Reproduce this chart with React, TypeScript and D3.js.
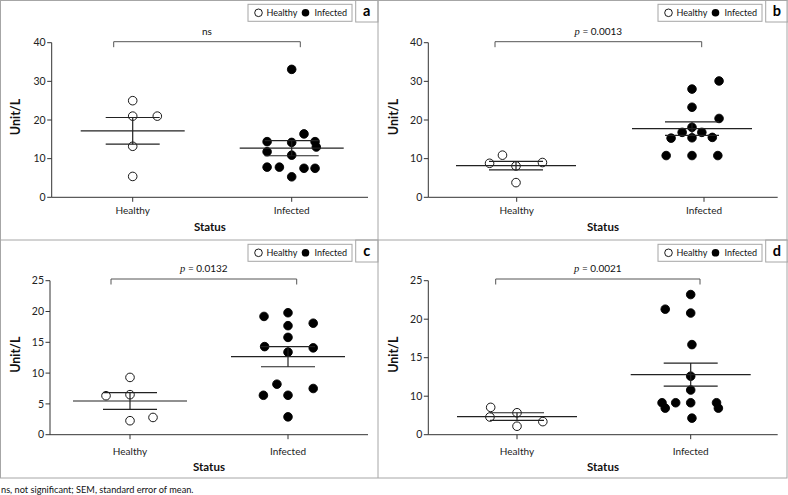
import React from "react";
import * as d3 from "d3";

// ---------- data ----------
const categories = ["Healthy", "Infected"];
const panelLetters = ["a", "b", "c", "d"];
const pLabels = ["ns", "0.0013", "0.0132", "0.0021"];
const footnote = "ns, not significant; SEM, standard error of mean.";
const yAxisTitle = "Unit/L";
const xAxisTitle = "Status";

const yTicksA = [0, 10, 20, 30, 40];
const yTicksB = [0, 10, 20, 30, 40];
const yTicksC = [0, 5, 10, 15, 20, 25];
const yTicksD = [0, 10, 15, 20, 25];

const aHealthy = [25, 21, 21, 13.2, 5.4];
const aHealthySlot = [0, 0, 2, 0, 0];
const aInfected = [33.1, 16.4, 14.4, 14.2, 14.4, 13.0, 11.8, 10.9, 7.8, 7.8, 7.5, 7.5, 5.3];
const aInfectedSlot = [0, 1, -2, 0, 1.9, 2, -2, 0, -2, -1, 1, 1.9, 0];
const aMean = [17.2, 12.7];
const aSem = [3.45, 1.95];

const bHealthy = [8.8, 10.9, 8.1, 9.0, 3.8];
const bHealthySlot = [-2.15, -1.1, 0, 2.15, 0];
const bInfected = [30.1, 28.0, 23.3, 20.4, 18.1, 16.8, 16.8, 15.3, 15.4, 15.5, 10.8, 10.8, 10.8];
const bInfectedSlot = [2.2, 0, 0, 2.2, 0, -0.8, 0.8, -1.7, 0, 1.65, -2.1, 0, 2.1];
const bMean = [8.2, 17.75];
const bSem = [1.1, 1.75];

const cHealthy = [6.33, 9.3, 6.5, 2.27, 2.8];
const cHealthySlot = [-1.95, 0, 0, 0, 1.87];
const cInfected = [19.2, 19.8, 17.7, 18.1, 15.8, 14.3, 14.1, 13.4, 8.2, 6.4, 6.4, 7.5, 2.9];
const cInfectedSlot = [-1.95, 0, 0, 2.05, 0, -1.9, 2.05, 0, -0.9, -2, 0, 2.05, 0];
const cMean = [5.47, 12.66];
const cSem = [1.35, 1.63];

const dHealthy = [7.1, 4.6, 5.7, 2.2, 3.4];
const dHealthySlot = [-2.14, -2.2, 0, 0, 2.1];
const dInfected = [23.2, 21.3, 20.8, 16.7, 12.6, 10.8, 8.3, 8.3, 8.3, 8.3, 6.9, 6.9, 4.3];
const dInfectedSlot = [0, -2.07, 0, 0.1, 0, 0, -2.33, -1.22, 0, 2.1, -2.07, 2.25, 0.1];
const dMean = [4.7, 12.8];
const dSem = [1.0, 1.5];

// ---------- layout (pixels) ----------
const W = 788;
const H = 495;
const FONT = "Lato, 'Open Sans', sans-serif";
const FRAME = "#a6a6a6";
const INK = "#111";
const SLOT_PX = 12.3;

type Layout = {
  ox: number; oy: number; w: number;
  axX: number; axR: number; yTop: number; yBot: number;
  catX: number[]; groupX: number[];
  br: number[]; meanHalf: number;
  tickDy: number; titleDy: number;
};

const layouts: Layout[] = [
  { ox: 0, oy: 0, w: 378, axX: 51.7, axR: 368, yTop: 42.7, yBot: 197.3, catX: [132.7, 291.7], groupX: [132.7, 291.7], br: [113.7, 300.3, 41.7], meanHalf: 52, tickDy: 16.7, titleDy: 33.7 },
  { ox: 378, oy: 0, w: 410, axX: 50.3, axR: 399.7, yTop: 42.7, yBot: 197.3, catX: [138.7, 326], groupX: [138, 314], br: [117, 323.7, 41.7], meanHalf: 60, tickDy: 16.7, titleDy: 33.7 },
  { ox: 0, oy: 240, w: 378, axX: 50, axR: 368, yTop: 40.7, yBot: 194.7, catX: [130, 288], groupX: [130, 288], br: [111, 296.7, 39], meanHalf: 57, tickDy: 20.6, titleDy: 36.5 },
  { ox: 378, oy: 240, w: 410, axX: 50.3, axR: 399.7, yTop: 40.7, yBot: 194.7, catX: [139, 312.7], groupX: [139, 312.7], br: [117.7, 322, 39], meanHalf: 60, tickDy: 20.6, titleDy: 36.5 },
];

type PanelData = {
  healthy: number[]; healthySlot: number[];
  infected: number[]; infectedSlot: number[];
  mean: number[]; sem: number[];
  ticks: number[]; domain: number[];
};

const panelData: PanelData[] = [
  { healthy: aHealthy, healthySlot: aHealthySlot, infected: aInfected, infectedSlot: aInfectedSlot, mean: aMean, sem: aSem, ticks: yTicksA, domain: [0, 40] },
  { healthy: bHealthy, healthySlot: bHealthySlot, infected: bInfected, infectedSlot: bInfectedSlot, mean: bMean, sem: bSem, ticks: yTicksB, domain: [0, 40] },
  { healthy: cHealthy, healthySlot: cHealthySlot, infected: cInfected, infectedSlot: cInfectedSlot, mean: cMean, sem: cSem, ticks: yTicksC, domain: [0, 25] },
  { healthy: dHealthy, healthySlot: dHealthySlot, infected: dInfected, infectedSlot: dInfectedSlot, mean: dMean, sem: dSem, ticks: yTicksD, domain: [0, 10, 25] },
];

function Panel({ idx }: { idx: number }) {
  const L = layouts[idx];
  const D = panelData[idx];
  const y =
    D.domain.length === 3
      ? d3.scaleLinear().domain(D.domain).range([L.yBot, L.yBot - (L.yBot - L.yTop) / 4, L.yTop])
      : d3.scaleLinear().domain(D.domain).range([L.yBot, L.yTop]);
  const xTick = d3.scaleOrdinal<string, number>().domain(categories).range(L.catX);
  const xGroup = d3.scaleOrdinal<string, number>().domain(categories).range(L.groupX);
  const jitter = d3.scaleLinear().domain([-1, 1]).range([-SLOT_PX, SLOT_PX]);
  const groups = [
    { cat: categories[0], vals: D.healthy, slots: D.healthySlot, fill: "#ffffff" },
    { cat: categories[1], vals: D.infected, slots: D.infectedSlot, fill: "#000000" },
  ];
  const axisMidY = (L.yTop + L.yBot) / 2;
  const axisMidX = (L.axX + L.axR) / 2;
  const [bx1, bx2, by] = L.br;
  const label = pLabels[idx];
  const lgX = L.w - 130;
  const lgY = 4.3;
  return (
    <g transform={`translate(${L.ox},${L.oy})`}>
      {/* legend */}
      <rect x={lgX} y={lgY} width={104} height={17} fill="#fff" stroke={FRAME} strokeWidth={1} />
      <circle cx={lgX + 10.5} cy={lgY + 8.5} r={3.8} fill="#fff" stroke="#000" strokeWidth={0.9} />
      <text x={lgX + 18.5} y={lgY + 11.8} fontSize={9} fill={INK} fontFamily={FONT}>Healthy</text>
      <circle cx={lgX + 57.5} cy={lgY + 8.5} r={3.8} fill="#000" />
      <text x={lgX + 66.5} y={lgY + 11.8} fontSize={9} fill={INK} fontFamily={FONT}>Infected</text>
      {/* panel letter box */}
      <rect x={L.w - 22.3} y={0} width={22.3} height={22} fill="#fff" stroke={FRAME} strokeWidth={1} />
      <text x={L.w - 11.2} y={16} textAnchor="middle" fontSize={14.5} fontWeight="bold" fill="#000" fontFamily={FONT}>
        {panelLetters[idx]}
      </text>
      {/* significance bracket */}
      <path d={`M${bx1},${by + 5.5}V${by}H${bx2}V${by + 5.5}`} fill="none" stroke="#555" strokeWidth={1} />
      <text x={(bx1 + bx2) / 2} y={by - 6.8} textAnchor="middle" fontSize={10} fill={INK} fontFamily={FONT}>
        {label === "ns" ? (
          "ns"
        ) : (
          <>
            <tspan fontFamily="'Liberation Serif', serif" fontStyle="italic" fontSize={10.5}>p</tspan>
            {` = ${label}`}
          </>
        )}
      </text>
      {/* y axis */}
      <line x1={L.axX} x2={L.axX} y1={L.yTop} y2={L.yBot} stroke="#333" strokeWidth={1} />
      {D.ticks.map((t) => (
        <g key={t}>
          <line x1={L.axX - 4.5} x2={L.axX} y1={y(t)} y2={y(t)} stroke="#333" strokeWidth={1} />
          <text x={L.axX - 6} y={y(t)} dy="0.35em" textAnchor="end" fontSize={10.5} fill="#222" fontFamily={FONT}>
            {t}
          </text>
        </g>
      ))}
      {/* x axis */}
      <line x1={L.axX} x2={L.axR} y1={L.yBot} y2={L.yBot} stroke="#333" strokeWidth={1} />
      {categories.map((c) => (
        <g key={c}>
          <line x1={xTick(c)} x2={xTick(c)} y1={L.yBot} y2={L.yBot + 4.5} stroke="#333" strokeWidth={1} />
          <text x={xTick(c)} y={L.yBot + L.tickDy} textAnchor="middle" fontSize={10} fill="#222" fontFamily={FONT}>
            {c}
          </text>
        </g>
      ))}
      <text x={axisMidX} y={L.yBot + L.titleDy} textAnchor="middle" fontSize={11.5} fontWeight="bold" fill={INK} fontFamily={FONT}>
        {xAxisTitle}
      </text>
      <text
        transform={`translate(19.8,${axisMidY - 3}) rotate(-90)`}
        textAnchor="middle"
        fontSize={12.5}
        fontWeight="bold"
        fill={INK}
        fontFamily={FONT}
      >
        {yAxisTitle}
      </text>
      {/* points */}
      {groups.map((g) =>
        g.vals.map((v, i) => (
          <circle
            key={g.cat + i}
            cx={xGroup(g.cat) + jitter(g.slots[i])}
            cy={y(v)}
            r={4.3}
            fill={g.fill}
            stroke="#000"
            strokeWidth={0.9}
          />
        ))
      )}
      {/* mean and SEM */}
      {groups.map((g, gi) => {
        const cx = xGroup(g.cat);
        const m = D.mean[gi];
        const s = D.sem[gi];
        return (
          <g key={"m" + g.cat} stroke="#222" strokeWidth={1.2}>
            <line x1={cx - L.meanHalf} x2={cx + L.meanHalf} y1={y(m)} y2={y(m)} />
            <line x1={cx - 27} x2={cx + 27} y1={y(m + s)} y2={y(m + s)} />
            <line x1={cx - 27} x2={cx + 27} y1={y(m - s)} y2={y(m - s)} />
            <line x1={cx} x2={cx} y1={y(m + s)} y2={y(m - s)} />
          </g>
        );
      })}
    </g>
  );
}

export default function App() {
  return (
    <svg
      width={W}
      height={H}
      viewBox={`0 0 ${W} ${H}`}
      style={{ position: "absolute", left: 0, top: 0, background: "#fff" }}
    >
      <rect x={0} y={0} width={W} height={H} fill="#fff" />
      {[0, 1, 2, 3].map((i) => (
        <Panel key={i} idx={i} />
      ))}
      {/* frame */}
      <rect x={0.5} y={0.5} width={786.5} height={477.5} fill="none" stroke={FRAME} strokeWidth={1} />
      <line x1={378} x2={378} y1={0} y2={478} stroke={FRAME} strokeWidth={1} />
      <line x1={0} x2={787} y1={240} y2={240} stroke={FRAME} strokeWidth={1} />
      <text x={1} y={492.8} fontSize={9.2} fill={INK} fontFamily={FONT}>
        {footnote}
      </text>
    </svg>
  );
}
